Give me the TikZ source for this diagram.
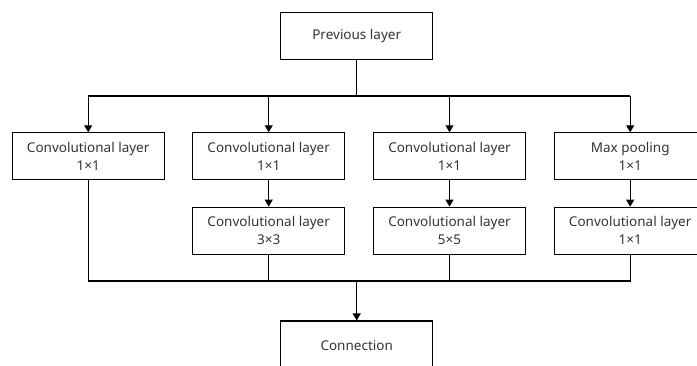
\documentclass[tikz,border=0pt]{standalone}
\usepackage{fontspec}
\setmainfont{Noto Sans}
\usetikzlibrary{arrows.meta}
\begin{document}
\begin{tikzpicture}[x=1pt,y=-1pt,
  box/.style={draw=black, line width=1.1pt, minimum width=152pt, minimum height=47pt,
    inner sep=0pt, align=center, font=\fontsize{13.5}{18}\selectfont, text=black!80},
  link/.style={line width=1.1pt},
  arr/.style={link, -{Triangle[length=7pt,width=8pt]}}]
\useasboundingbox (0,0) rectangle (697,365);

% input and output
\node[box] (prev) at (356.7,35.7) {Previous layer};
\node[box, minimum height=50pt] (conn) at (356.7,346) {Connection};

% first row of branches
\node[box] (c1) at (88.2,156.3) {Convolutional layer\\1×1};
\node[box] (c2) at (268.7,156.3) {Convolutional layer\\1×1};
\node[box] (c3) at (449.5,156.3) {Convolutional layer\\1×1};
\node[box] (c4) at (630.2,156.3) {Max pooling\\1×1};

% second row of branches
\node[box] (d2) at (268.7,230.7) {Convolutional layer\\3×3};
\node[box] (d3) at (449.5,230.7) {Convolutional layer\\5×5};
\node[box] (d4) at (630.2,230.7) {Convolutional layer\\1×1};

% split bus
\coordinate (split) at (356.7,96);
\draw[link] (prev.south) -- (split);
\draw[link] (c1.north |- split) -- (c4.north |- split);
\foreach \n in {c1,c2,c3,c4}
  \draw[arr] (\n.north |- split) -- (\n.north);

% inner arrows
\draw[arr] (c2.south) -- (d2.north);
\draw[arr] (c3.south) -- (d3.north);
\draw[arr] (c4.south) -- (d4.north);

% merge bus
\coordinate (merge) at (356.7,281);
\draw[link] (c1.south) -- (c1.south |- merge) -- (d4.south |- merge) -- (d4.south);
\draw[link] (d2.south) -- (d2.south |- merge);
\draw[link] (d3.south) -- (d3.south |- merge);
\draw[arr] (merge) -- (conn.north);
\end{tikzpicture}
\end{document}
